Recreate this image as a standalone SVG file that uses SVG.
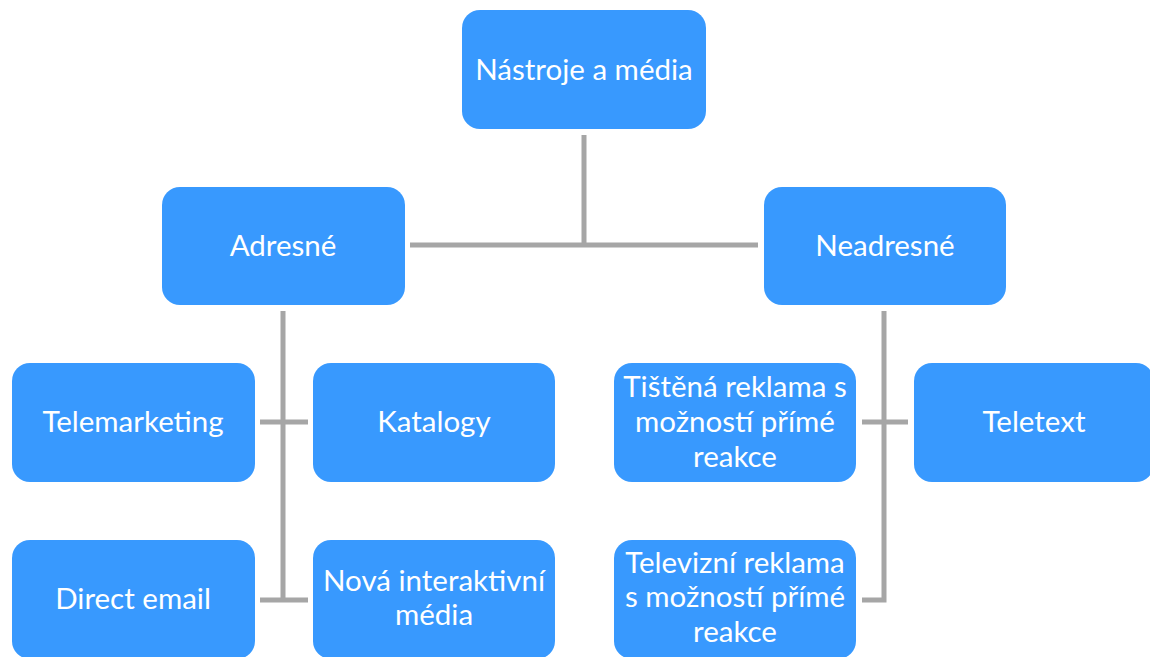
<svg xmlns="http://www.w3.org/2000/svg" width="1150" height="657" viewBox="0 0 1150 657">
<style>
.n{fill:#3899fe;}
.t{fill:#ffffff;font-family:Lato,"Open Sans",sans-serif;font-size:29.5px;text-anchor:middle;}
.c{stroke:#a6a6a6;stroke-width:5;fill:none;}
</style>
<rect width="1150" height="657" fill="#ffffff"/>
<g id="connectors">
<path class="c" d="M584 135V245M410 245H758"/>
<path class="c" d="M283 311V600M260 422H308M260 600H308"/>
<path class="c" d="M884 311V600H862M862 422H908"/>
</g>
<g id="n-root"><rect class="n" x="462" y="10" width="244" height="119" rx="18"/><text class="t" x="584" y="80">Nástroje a média</text></g>
<g id="n-adresne"><rect class="n" x="162" y="187" width="243" height="118" rx="18"/><text class="t" x="283" y="256">Adresné</text></g>
<g id="n-neadresne"><rect class="n" x="764" y="187" width="242" height="118" rx="18"/><text class="t" x="885" y="256">Neadresné</text></g>
<g id="n-telemarketing"><rect class="n" x="12" y="363" width="243" height="119" rx="18"/><text class="t" x="133" y="432">Telemarketing</text></g>
<g id="n-katalogy"><rect class="n" x="313" y="363" width="242" height="119" rx="18"/><text class="t" x="434" y="432">Katalogy</text></g>
<g id="n-directemail"><rect class="n" x="12" y="540" width="243" height="119" rx="18"/><text class="t" x="133" y="609">Direct email</text></g>
<g id="n-nova"><rect class="n" x="313" y="540" width="242" height="119" rx="18"/><text class="t" x="434" y="591">Nová interaktivní</text><text class="t" x="434" y="625">média</text></g>
<g id="n-tistena"><rect class="n" x="614" y="363" width="242" height="119" rx="18"/><text class="t" x="735" y="397">Tištěná reklama s</text><text class="t" x="735" y="432">možností přímé</text><text class="t" x="735" y="467">reakce</text></g>
<g id="n-teletext"><rect class="n" x="914" y="363" width="240" height="119" rx="18"/><text class="t" x="1034" y="432">Teletext</text></g>
<g id="n-televizni"><rect class="n" x="614" y="540" width="242" height="119" rx="18"/><text class="t" x="735" y="573">Televizní reklama</text><text class="t" x="735" y="607">s možností přímé</text><text class="t" x="735" y="642">reakce</text></g>
</svg>
